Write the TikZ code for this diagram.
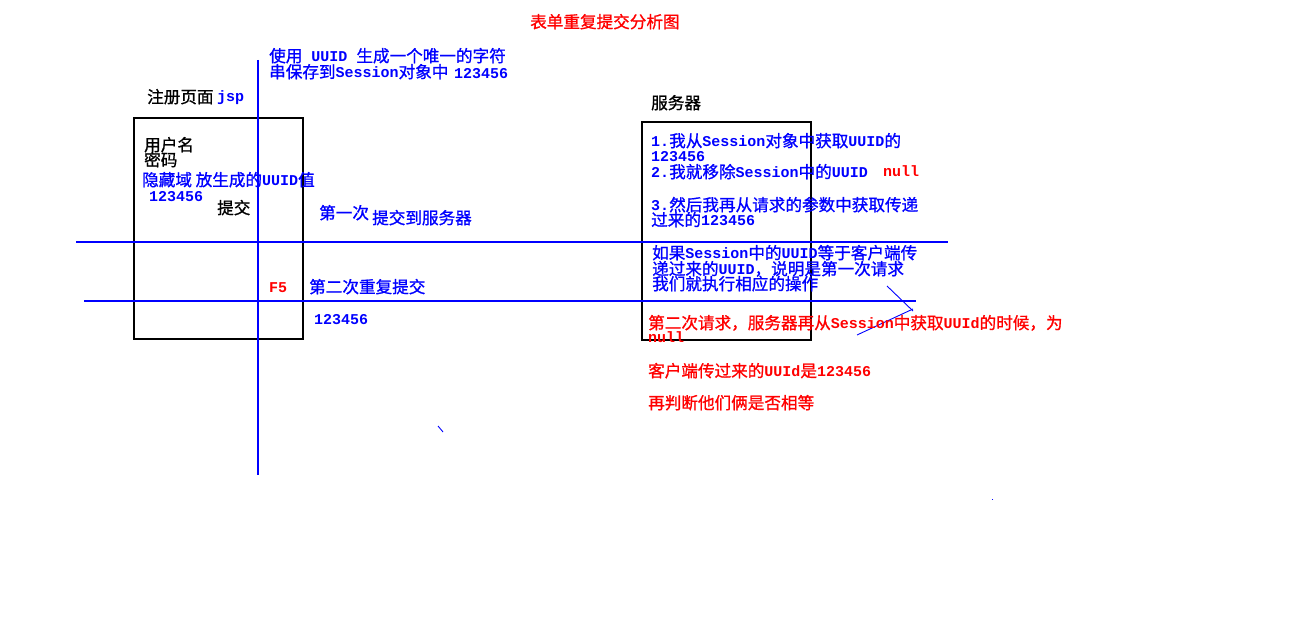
\documentclass[tikz,border=0pt]{standalone}
\usepackage{fontspec}
\setmainfont{Noto Sans CJK SC}[FakeBold=1]
\newfontfamily\latfont{Liberation Mono Bold}
\newcommand\lt[1]{{\latfont\fontsize{15}{15}\selectfont #1}}
\begin{document}
\begin{tikzpicture}[x=1pt,y=-1pt,
  txt/.style={anchor=base west, inner sep=0pt, font=\fontsize{16.6}{16.6}\selectfont},
  bl/.style={txt, text=blue},
  rd/.style={txt, text=red},
  bk/.style={txt, text=black},
  bline/.style={draw=blue, line width=1.1pt},
  thinb/.style={draw=blue, line width=0.9pt},
  boxst/.style={draw=black, line width=1.1pt, inner sep=0pt}]
\useasboundingbox[fill=white] (0,0) rectangle (1296,617);

% title
\node[rd] (title) at (530,28) {表单重复提交分析图};

% boxes
\node[boxst, minimum width=169pt, minimum height=221pt] (jspbox) at (218.5,228.5) {};
\node[boxst, minimum width=169pt, minimum height=218pt] (srvbox) at (726.5,231) {};

% lines
\coordinate (vt) at (258,60);
\coordinate (vb) at (258,475);
\draw[bline] (vt) -- (vb);
\coordinate (h1a) at (76,242);
\coordinate (h1b) at (948,242);
\draw[bline] (h1a) -- (h1b);
\coordinate (h2a) at (84,301);
\coordinate (h2b) at (916,301);
\draw[bline] (h2a) -- (h2b);
\coordinate (d1a) at (887,286);
\coordinate (d1b) at (913,311);
\draw[thinb] (d1a) -- (d1b);
\coordinate (d2a) at (857,335);
\coordinate (d2b) at (913,309);
\draw[thinb] (d2a) -- (d2b);
\coordinate (t1a) at (438,426);
\coordinate (t1b) at (443,432);
\draw[thinb] (t1a) -- (t1b);
\coordinate (dot) at (992,499);
\fill[blue] (dot) rectangle +(1.2,1.2);

% left texts
\node[bl] (uuid1) at (269,62) {使用\lt{ UUID }生成一个唯一的字符};
\node[bl] (uuid2) at (269,78) {串保存到\lt{Session}对象中};
\node[bl] (uuid3) at (454,79) {\lt{123456}};
\node[bk] (reg) at (147,103) {注册页面};
\node[bl] (jsp) at (217,102) {\lt{jsp}};
\node[bk] (user) at (144,151) {用户名};
\node[bk] (pwd) at (144,166) {密码};
\node[bl] (hid) at (142,186) {隐藏域 放生成的\lt{UUID}值};
\node[bl] (num1) at (149,202) {\lt{123456}};
\node[bk] (sub) at (217,214) {提交};
\node[bl] (first) at (319,219) {第一次};
\node[bl] (tosrv) at (372,224) {提交到服务器};
\node[rd] (f5) at (269,293) {\lt{F5}};
\node[bl] (second) at (309,293) {第二次重复提交};
\node[bl] (num2) at (314,325) {\lt{123456}};

% server texts
\node[bk] (srv) at (651,109) {服务器};
\node[bl] (s1) at (651,147) {\lt{1.}我从\lt{Session}对象中获取\lt{UUID}的};
\node[bl] (s1b) at (651,162) {\lt{123456}};
\node[bl] (s2) at (651,178) {\lt{2.}我就移除\lt{Session}中的\lt{UUID}};
\node[rd] (null1) at (883,177) {\lt{null}};
\node[bl] (s3) at (651,211) {\lt{3.}然后我再从请求的参数中获取传递};
\node[bl] (s3b) at (651,226) {过来的\lt{123456}};
\node[bl] (c1) at (652,259) {如果\lt{Session}中的\lt{UUID}等于客户端传};
\node[bl] (c2) at (652,275) {递过来的\lt{UUID}，说明是第一次请求};
\node[bl] (c3) at (652,290) {我们就执行相应的操作};
\node[rd] (r1) at (648,329) {第二次请求，服务器再从\lt{Session}中获取\lt{UUId}的时候，为};
\node[rd] (r1b) at (648,343) {\lt{null}};
\node[rd] (r2) at (648,377) {客户端传过来的\lt{UUId}是\lt{123456}};
\node[rd] (r3) at (648,409) {再判断他们俩是否相等};
\end{tikzpicture}
\end{document}
